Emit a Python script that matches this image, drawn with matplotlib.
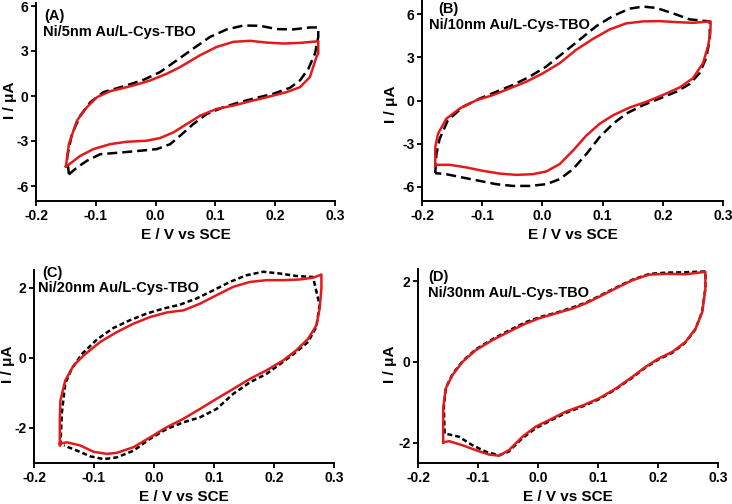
import numpy as np
import matplotlib
matplotlib.use('Agg')
import matplotlib.pyplot as plt

plt.rcParams['font.family'] = ['Liberation Sans', 'DejaVu Sans']
plt.rcParams['font.weight'] = 'bold'

# ---- panel A : Ni/5nm Au/L-Cys-TBO ----
a_red_E = [-0.150, -0.145, -0.1315, -0.115, -0.098, -0.076, -0.037, -0.009, 0.019, 0.041, 0.0745,
           0.102, 0.130, 0.158, 0.186, 0.214, 0.2415, 0.272, 0.272, 0.269, 0.258, 0.2415, 0.219,
           0.186, 0.158, 0.130, 0.102, 0.0745, 0.052, 0.030, 0.0077, -0.0146, -0.048, -0.076,
           -0.104, -0.126, -0.148, -0.150]
a_red_I = [-4.70, -3.20, -1.64, -0.75, -0.08, 0.32, 0.70, 1.04, 1.49, 1.93, 2.72,
           3.27, 3.61, 3.68, 3.56, 3.50, 3.54, 3.65, 2.83, 2.60, 1.26, 0.59, 0.26,
           -0.08, -0.35, -0.64, -0.86, -1.31, -1.87, -2.42, -2.80, -2.98, -3.05, -3.21,
           -3.54, -3.99, -4.66, -4.70]
a_blk_E = [-0.145, -0.148, -0.140, -0.126, -0.109, -0.087, -0.054, -0.020, 0.0077, 0.0355, 0.063,
           0.091, 0.119, 0.147, 0.175, 0.2025, 0.230, 0.258, 0.272, 0.272, 0.2666, 0.2555, 0.2415,
           0.2248, 0.197, 0.169, 0.141, 0.113, 0.0856, 0.063, 0.041, 0.0244, 0.002, -0.0257,
           -0.059, -0.0926, -0.115, -0.1315, -0.145]
a_blk_I = [-5.22, -4.10, -2.54, -1.31, -0.41, 0.26, 0.64, 1.08, 1.60, 2.38, 3.16,
           3.94, 4.44, 4.70, 4.68, 4.46, 4.44, 4.57, 4.57, 3.94, 2.83, 1.82, 1.04,
           0.55, 0.15, -0.12, -0.41, -0.75, -1.20, -1.87, -2.65, -3.21, -3.54, -3.65,
           -3.77, -3.88, -4.32, -4.77, -5.22]

# ---- panel B : Ni/10nm Au/L-Cys-TBO ----
b_red_E = [-0.178, -0.178, -0.1734, -0.1596, -0.1374, -0.1097, -0.082, -0.0544, -0.0267, 0.001,
           0.0287, 0.0564, 0.084, 0.1117, 0.139, 0.167, 0.1948, 0.2225, 0.250, 0.2795, 0.279,
           0.275, 0.2668, 0.250, 0.228, 0.200, 0.1727, 0.145, 0.1173, 0.0951, 0.073, 0.0508,
           0.0287, 0.0065, -0.0156, -0.0433, -0.071, -0.0987, -0.1264, -0.154, -0.178]
b_red_I = [-4.55, -3.26, -2.32, -1.27, -0.56, 0.02, 0.38, 0.84, 1.31, 1.90,
           2.60, 3.54, 4.29, 4.95, 5.37, 5.51, 5.53, 5.46, 5.41, 5.51, 4.71,
           3.77, 2.60, 1.55, 0.91, 0.38, -0.09, -0.49, -1.03, -1.62, -2.44, -3.49,
           -4.43, -4.94, -5.13, -5.18, -5.09, -4.90, -4.66, -4.48, -4.48]
b_blk_E = [-0.178, -0.176, -0.1707, -0.157, -0.132, -0.104, -0.0765, -0.049, -0.0211, 0.0065,
           0.0342, 0.062, 0.0896, 0.117, 0.145, 0.167, 0.189, 0.217, 0.2446, 0.278, 0.278,
           0.272, 0.261, 0.2446, 0.2225, 0.1948, 0.167, 0.1394, 0.1173, 0.095, 0.073, 0.0508,
           0.0287, 0.0065, -0.0211, -0.049, -0.0765, -0.104, -0.132, -0.160, -0.178]
b_blk_I = [-5.06, -3.73, -2.67, -1.38, -0.44, 0.14, 0.61, 1.08, 1.66, 2.37,
           3.30, 4.24, 5.18, 5.88, 6.40, 6.54, 6.45, 6.07, 5.65, 5.51, 4.24,
           2.95, 1.90, 1.15, 0.61, 0.14, -0.33, -0.91, -1.62, -2.55, -3.73, -4.78,
           -5.48, -5.83, -5.95, -5.95, -5.83, -5.60, -5.37, -5.13, -5.06]

# ---- panel C : Ni/20nm Au/L-Cys-TBO ----
c_red_E = [-0.157, -0.157, -0.156, -0.148, -0.134, -0.117, -0.0897, -0.062, -0.0343, -0.0065,
           0.0212, 0.049, 0.0766, 0.104, 0.132, 0.160, 0.1875, 0.215, 0.243, 0.265, 0.279,
           0.279, 0.276, 0.2706, 0.2568, 0.237, 0.215, 0.1875, 0.160, 0.132, 0.1043, 0.0766,
           0.049, 0.0212, -0.0065, -0.0343, -0.062, -0.0786, -0.1008, -0.123, -0.145, -0.157]
c_red_I = [-2.50, -1.74, -1.22, -0.65, -0.22, 0.07, 0.45, 0.73, 0.97, 1.16,
           1.29, 1.35, 1.54, 1.78, 2.02, 2.16, 2.21, 2.21, 2.23, 2.28, 2.37,
           1.97, 1.40, 0.92, 0.54, 0.21, -0.08, -0.36, -0.60, -0.89, -1.17, -1.46,
           -1.74, -1.98, -2.27, -2.55, -2.71, -2.74, -2.68, -2.50, -2.41, -2.45]
c_blk_E = [-0.156, -0.1534, -0.148, -0.137, -0.120, -0.095, -0.0675, -0.040, -0.012, 0.0156,
           0.043, 0.071, 0.0988, 0.1265, 0.154, 0.182, 0.2096, 0.237, 0.265, 0.276,
           0.2706, 0.2568, 0.237, 0.215, 0.1875, 0.160, 0.132, 0.1043, 0.0766, 0.049,
           0.0212, -0.0065, -0.0343, -0.062, -0.084, -0.106, -0.128, -0.150]
c_blk_I = [-2.50, -1.55, -0.74, -0.31, 0.11, 0.52, 0.85, 1.07, 1.26, 1.40,
           1.51, 1.69, 1.92, 2.16, 2.35, 2.45, 2.40, 2.33, 2.30, 1.50,
           0.88, 0.45, 0.16, -0.12, -0.46, -0.70, -1.03, -1.46, -1.70, -1.84,
           -2.03, -2.31, -2.65, -2.84, -2.89, -2.81, -2.65, -2.50]

# ---- panel D : Ni/30nm Au/L-Cys-TBO ----
d_red_E = [-0.158, -0.158, -0.1539, -0.1428, -0.126, -0.104, -0.076, -0.0483, -0.0206, 0.0017,
           0.0294, 0.0572, 0.0794, 0.1017, 0.1294, 0.157, 0.185, 0.2128, 0.246, 0.279, 0.279,
           0.2739, 0.2628, 0.246, 0.224, 0.2017, 0.1794, 0.157, 0.1294, 0.1017, 0.0739, 0.046,
           0.0183, -0.0039, -0.026, -0.0483, -0.065, -0.0817, -0.104, -0.126, -0.148, -0.158]
d_red_I = [-1.99, -1.15, -0.66, -0.33, 0.00, 0.29, 0.54, 0.75, 0.95, 1.08,
           1.20, 1.32, 1.45, 1.61, 1.82, 2.02, 2.16, 2.18, 2.17, 2.23, 1.82,
           1.24, 0.83, 0.50, 0.25, 0.09, -0.12, -0.37, -0.66, -0.90, -1.08, -1.23,
           -1.44, -1.60, -1.85, -2.18, -2.32, -2.29, -2.18, -2.06, -1.96, -1.99]
d_blk_E = [-0.1556, -0.157, -0.1535, -0.1425, -0.125, -0.103, -0.075, -0.047, -0.0195, 0.003,
           0.031, 0.058, 0.080, 0.102, 0.130, 0.158, 0.186, 0.214, 0.247, 0.279, 0.279,
           0.2735, 0.262, 0.245, 0.223, 0.2005, 0.178, 0.156, 0.128, 0.1005, 0.0725, 0.045,
           0.017, -0.005, -0.027, -0.049, -0.065, -0.087, -0.1094, -0.1317, -0.1556]
d_blk_I = [-1.77, -1.10, -0.64, -0.30, 0.03, 0.32, 0.57, 0.79, 0.99, 1.11,
           1.22, 1.35, 1.47, 1.63, 1.84, 2.04, 2.18, 2.21, 2.22, 2.24, 1.82,
           1.24, 0.80, 0.47, 0.22, 0.06, -0.15, -0.40, -0.69, -0.93, -1.11, -1.27,
           -1.48, -1.65, -1.90, -2.22, -2.31, -2.22, -2.06, -1.85, -1.77]

panels = [
    ('(A)', 'Ni/5nm Au/L-Cys-TBO', a_blk_E, a_blk_I, a_red_E, a_red_I, [-6, -3, 0, 3, 6], (-7, 6.2)),
    ('(B)', 'Ni/10nm Au/L-Cys-TBO', b_blk_E, b_blk_I, b_red_E, b_red_I, [-6, -3, 0, 3, 6], (-7, 7)),
    ('(C)', 'Ni/20nm Au/L-Cys-TBO', c_blk_E, c_blk_I, c_red_E, c_red_I, [-2, 0, 2], (-3, 2.5)),
    ('(D)', 'Ni/30nm Au/L-Cys-TBO', d_blk_E, d_blk_I, d_red_E, d_red_I, [-2, 0, 2], (-2.5, 2.3)),
]

W, H = 732, 504
# axes boxes in pixels: left, right, bottom, top
boxes = [(36, 335, 201, 3), (422, 723, 201, 0), (34, 334, 463, 270), (418, 718, 463, 269)]
# panel text positions in pixels (x of tag, y top of tag, y top of name, x of name)
labels_px = [(44, 9, 25, 43), (438, 2, 18, 429), (42, 266, 281, 38), (428, 270, 286, 428)]
# y-label centre in pixels
ylab_px = [(10, 100), (391, 104), (8, 364), (390, 364)]
dash = [(0, (4, 2)), (0, (4, 2)), (0, (2, 1.2)), (0, (2, 1.2))]

fig = plt.figure(figsize=(W / 100, H / 100), dpi=100)
for i, (tag, name, bE, bI, rE, rI, yt, yl) in enumerate(panels):
    l, r, b, t = boxes[i]
    ax = fig.add_axes([l / W, 1 - b / H, (r - l) / W, (b - t) / H])
    ax.plot(bE, bI, color='black', lw=1.8, linestyle=dash[i])
    ax.plot(rE, rI, color='#e31a1c', lw=1.8)
    ax.set_xlim(-0.2, 0.3)
    ax.set_ylim(*yl)
    ax.set_xticks([-0.2, -0.1, 0.0, 0.1, 0.2, 0.3])
    ax.set_xticklabels(['-0.2', '-0.1', '0.0', '0.1', '0.2', '0.3'])
    ax.set_yticks(yt)
    ax.set_yticklabels([str(v) for v in yt])
    for s in ['top', 'right']:
        ax.spines[s].set_visible(False)
    for s in ['left', 'bottom']:
        ax.spines[s].set_linewidth(1.4)
    ax.tick_params(direction='out', length=3.5, width=1.3, labelsize=10, pad=2)
    for lab in ax.get_xticklabels() + ax.get_yticklabels():
        lab.set_fontweight('bold')
    ax.set_xlabel('E / V vs SCE', fontsize=11, fontweight='bold', labelpad=4)
    yx, yy = ylab_px[i]
    fig.text(yx / W, 1 - yy / H, 'I / μA', fontsize=11, fontweight='bold',
             rotation=90, ha='center', va='center')
    tx, ty1, ty2, nx = labels_px[i]
    fig.text(tx / W, 1 - ty1 / H, tag, fontsize=10.5, fontweight='bold', va='top', ha='left')
    fig.text(nx / W, 1 - ty2 / H, name, fontsize=10.5, fontweight='bold', va='top', ha='left')

plt.savefig('out.png', dpi=100)
